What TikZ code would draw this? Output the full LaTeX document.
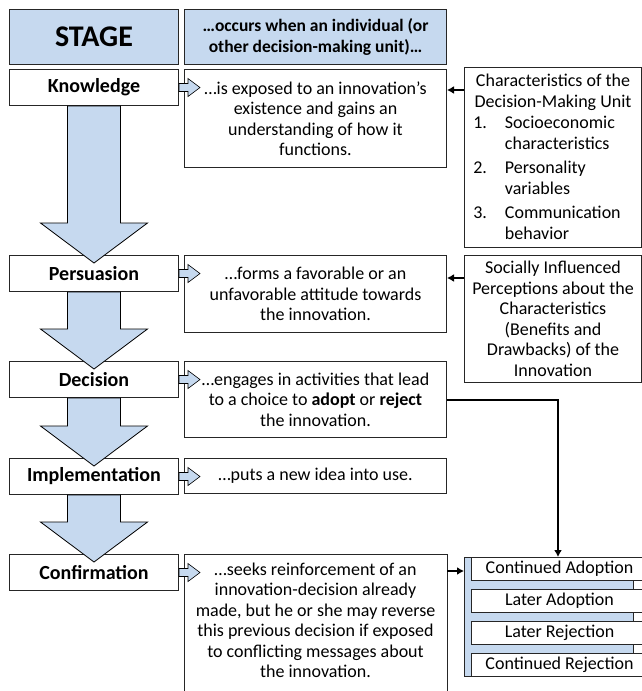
\documentclass[tikz,border=0pt]{standalone}
\usepackage{fontspec}
\setmainfont{Carlito}
\usetikzlibrary{calc, arrows.meta}
\definecolor{stageBlue}{HTML}{C6D9EF}
\newcommand{\bodyfont}{\fontsize{18}{20.5}\selectfont}
% big down arrow from one stage box to the next
\newcommand{\StageArrow}[2]{
	\def\lsw{26.5}
	\def\lhw{53.5}
	\filldraw[fill=stageBlue, draw=black, line width=0.8pt, line join=miter]
		($(#1.south)+(-\lsw,0)$) -- ($(#2.north)+(-\lsw,-32)$) -- ($(#2.north)+(-\lhw,-32)$)
		-- ($(#2.north)+(0,8)$) -- ($(#2.north)+(\lhw,-32)$) -- ($(#2.north)+(\lsw,-32)$)
		-- ($(#1.south)+(\lsw,0)$) -- cycle;
}
% small arrow from a stage box to its description
\newcommand{\DescArrow}[1]{
	\filldraw[fill=stageBlue, draw=black, line width=0.6pt, line join=miter]
		($(#1.east)+(0,-4)$) -- ++(9,0) -- ++(0,-5) -- ($(#1.east)+(21,0)$)
		-- ($(#1.east)+(9,9)$) -- ++(0,-5) -- ($(#1.east)+(0,4)$) -- cycle;
}

\begin{document}
\begin{tikzpicture}[x=1pt, y=-1pt, line cap=round,
	stagebox/.style={draw=black!85, line width=1pt, fill=white, anchor=north west, minimum width=169pt, minimum height=36pt, inner sep=0pt, font=\fontsize{20}{22}\selectfont\bfseries},
	headbox/.style={stagebox, fill=stageBlue, minimum height=55pt},
	descbox/.style={draw=black!85, line width=1pt, fill=white, anchor=north west, minimum width=262pt, inner sep=0pt, align=center, font=\bodyfont},
	sidebox/.style={descbox, minimum width=177pt},
	outbox/.style={draw=black!85, line width=1pt, fill=white, anchor=north west, minimum width=176pt, minimum height=23pt, inner sep=0pt, font=\bodyfont},
	sidearrow/.style={line width=2pt, line cap=butt, -{Latex[length=7pt,width=8pt]}}]

	\path[use as bounding box, clip] (0,0) rectangle (642,691);

	% headers
	\node[headbox] (hstage) at (9,9) {\fontsize{30}{32}\selectfont STAGE};
	\node[headbox, minimum width=262pt, align=center, font=\fontsize{17.5}{20.5}\selectfont\bfseries] (hdesc) at (184,9) {…occurs when an individual (or\\other decision-making unit)…};

	% stages
	\node[stagebox] (know) at (9,69) {Knowledge};
	\node[stagebox] (pers) at (9,255) {Persuasion};
	\node[stagebox] (deci) at (9,361) {Decision};
	\node[stagebox] (impl) at (9,458) {Implementation};
	\node[stagebox] (conf) at (9,554) {Confirmation};

	% descriptions
	\node[descbox, minimum height=98pt] (kdesc) at (184,69) {…is exposed to an innovation’s\\existence and gains an\\understanding of how it\\functions.};
	\node[descbox, minimum height=77pt] (pdesc) at (184,255) {…forms a favorable or an\\unfavorable attitude towards\\the innovation.};
	\node[descbox, minimum height=76pt] (ddesc) at (184,361) {…engages in activities that lead\\to a choice to \textbf{adopt} or \textbf{reject}\\the innovation.};
	\node[descbox, minimum height=35pt] (idesc) at (184,458) {…puts a new idea into use.};
	\node[descbox, draw=none, inner ysep=8pt] (cdesc) at (184,554) {…seeks reinforcement of an\\innovation-decision already\\made, but he or she may reverse\\this previous decision if exposed\\to conflicting messages about\\the innovation.};
	\draw[draw=black!85, line width=1pt] (cdesc.north west) rectangle ($(cdesc.south east)+(0,15)$);

	% side boxes
	\node[sidebox, minimum height=180pt] (chars) at (464,67) {\rule{0pt}{17pt}Characteristics of the\\Decision-Making Unit\\[3pt]
		\begin{tabular}{@{}l@{\hspace{18pt}}l@{}}
			1. & Socioeconomic\\ & characteristics\\[4pt]
			2. & Personality\\ & variables\\[4pt]
			3. & Communication\\ & behavior
		\end{tabular}\hspace*{12pt}};
	\node[sidebox, minimum height=127pt] (socl) at (464,255) {Socially Influenced\\Perceptions about the\\Characteristics\\(Benefits and\\Drawbacks) of the\\Innovation};

	% outcomes
	\filldraw[fill=stageBlue, draw=black!85, line width=1pt] (464,557) rectangle (633,676);
	\coordinate (outgrp) at (464,557);
	\node[outbox] (oca) at (471,557) {Continued Adoption};
	\node[outbox] (ola) at (471,589) {Later Adoption};
	\node[outbox] (olr) at (471,621) {Later Rejection};
	\node[outbox] (ocr) at (471,653) {Continued Rejection};

	% arrows
	\StageArrow{know}{pers}
	\StageArrow{pers}{deci}
	\StageArrow{deci}{impl}
	\StageArrow{impl}{conf}
	\foreach \s in {know, pers, deci, impl, conf}
		\DescArrow{\s};

	\draw[sidearrow] (chars.west |- 0,90) -- (kdesc.east |- 0,90);
	\draw[sidearrow] (socl.west |- 0,278) -- (pdesc.east |- 0,278);
	\draw[sidearrow, line join=miter] (ddesc.east) -| ($(outgrp)+(94,0)$);
	\draw[sidearrow] (cdesc.east |- 0,571) -- (outgrp |- 0,571);

\end{tikzpicture}
\end{document}
